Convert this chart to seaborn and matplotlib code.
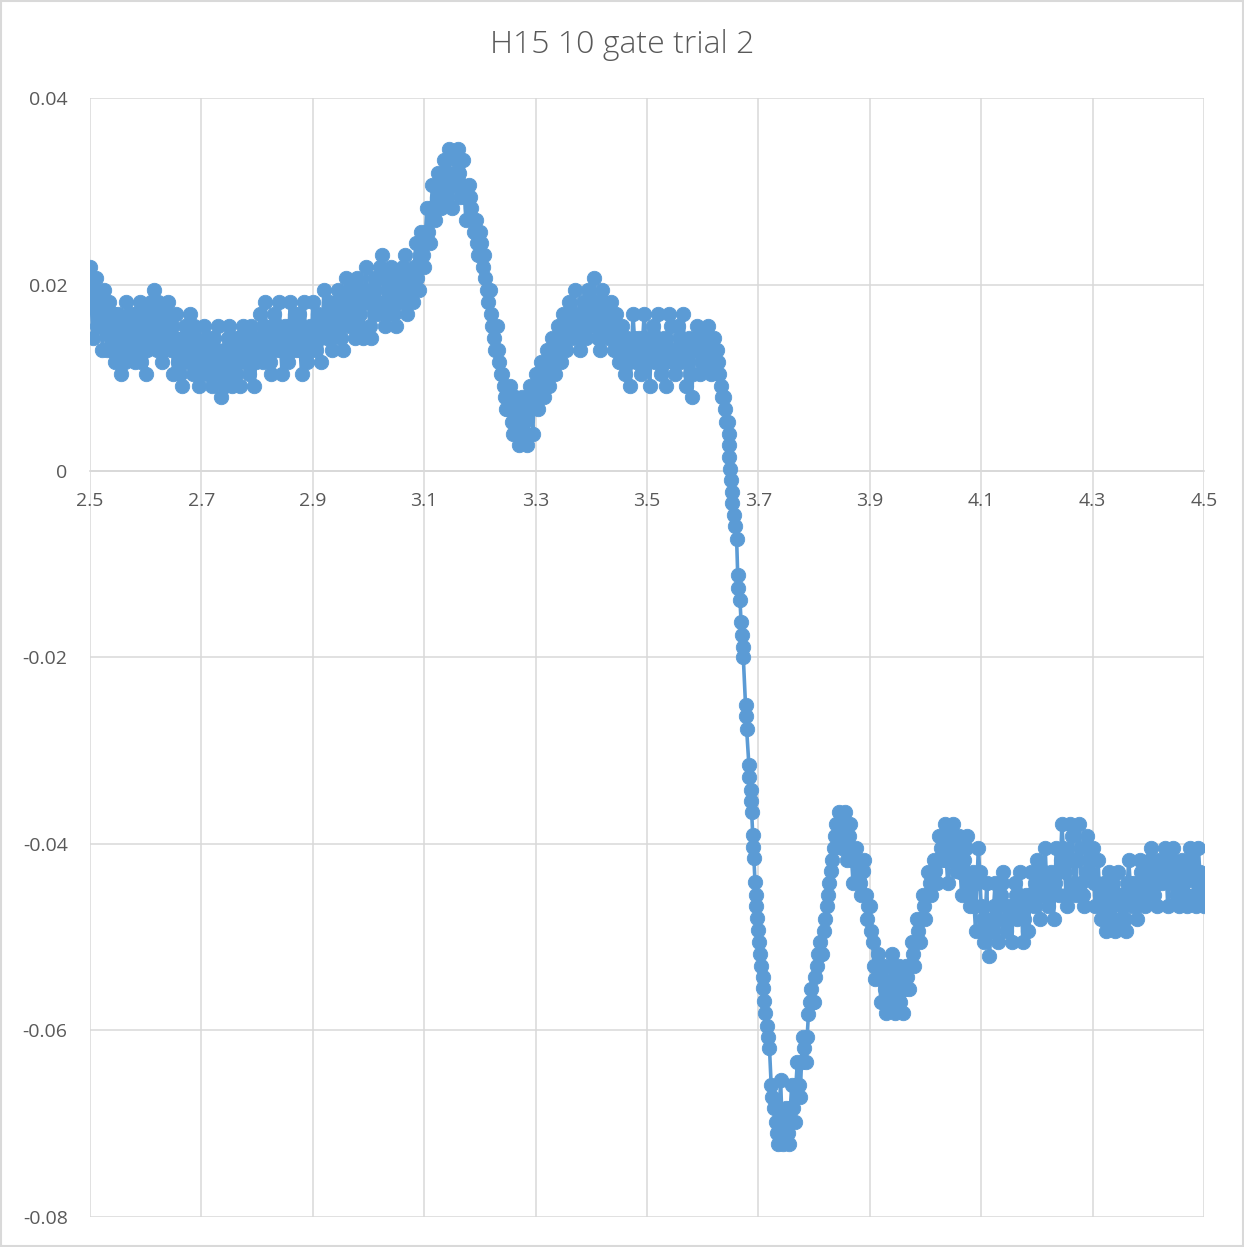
import numpy as np
import pandas as pd
import matplotlib
matplotlib.use("Agg")
import matplotlib.pyplot as plt
import seaborn as sns

TITLE = "H15 10 gate trial 2"
BLUE = "#5B9BD5"

# plateau before the edge: even samples every 0.005 from 2.500 to 3.645
Y_PRE = [
    0.0219, 0.0143, 0.0207, 0.0168, 0.0155, 0.0194, 0.0130, 0.0181, 0.0143, 0.0117,
    0.0168, 0.0104, 0.0155, 0.0181, 0.0130, 0.0168, 0.0117, 0.0143, 0.0181, 0.0130,
    0.0104, 0.0155, 0.0181, 0.0194, 0.0130, 0.0168, 0.0117, 0.0155, 0.0181, 0.0130,
    0.0104, 0.0168, 0.0130, 0.0091, 0.0155, 0.0117, 0.0168, 0.0104, 0.0143, 0.0091,
    0.0130, 0.0155, 0.0104, 0.0143, 0.0091, 0.0117, 0.0155, 0.0079, 0.0130, 0.0104,
    0.0155, 0.0091, 0.0143, 0.0117, 0.0091, 0.0155, 0.0130, 0.0104, 0.0155, 0.0091,
    0.0143, 0.0168, 0.0117, 0.0181, 0.0143, 0.0104, 0.0168, 0.0130, 0.0181, 0.0104,
    0.0155, 0.0117, 0.0181, 0.0143, 0.0130, 0.0168, 0.0104, 0.0181, 0.0117, 0.0155,
    0.0181, 0.0130, 0.0168, 0.0117, 0.0194, 0.0143, 0.0181, 0.0130, 0.0168, 0.0194,
    0.0143, 0.0130, 0.0207, 0.0155, 0.0181, 0.0143, 0.0207, 0.0168, 0.0143, 0.0219,
    0.0181, 0.0143, 0.0207, 0.0168, 0.0219, 0.0232, 0.0155, 0.0194, 0.0219, 0.0168,
    0.0155, 0.0207, 0.0181, 0.0232, 0.0168, 0.0207, 0.0181, 0.0244, 0.0194, 0.0256,
    0.0219, 0.0282, 0.0244, 0.0307, 0.0269, 0.0320, 0.0282, 0.0333, 0.0294, 0.0345,
    0.0282, 0.0320, 0.0345, 0.0294, 0.0333, 0.0269, 0.0307, 0.0282, 0.0256, 0.0244,
    0.0256, 0.0219, 0.0207, 0.0181, 0.0168, 0.0143, 0.0155, 0.0117, 0.0104, 0.0079,
    0.0066, 0.0091, 0.0040, 0.0066, 0.0028, 0.0079, 0.0053, 0.0028, 0.0091, 0.0040,
    0.0104, 0.0066, 0.0117, 0.0079, 0.0130, 0.0091, 0.0143, 0.0104, 0.0155, 0.0117,
    0.0168, 0.0130, 0.0181, 0.0143, 0.0194, 0.0155, 0.0130, 0.0181, 0.0143, 0.0194,
    0.0155, 0.0207, 0.0168, 0.0130, 0.0194, 0.0155, 0.0143, 0.0181, 0.0130, 0.0168,
    0.0117, 0.0155, 0.0104, 0.0143, 0.0091, 0.0168, 0.0117, 0.0143, 0.0104, 0.0168,
    0.0130, 0.0091, 0.0155, 0.0117, 0.0168, 0.0104, 0.0143, 0.0091, 0.0168, 0.0130,
    0.0104, 0.0155, 0.0117, 0.0168, 0.0091, 0.0143, 0.0079, 0.0130, 0.0155, 0.0104,
    0.0143, 0.0117, 0.0155, 0.0104, 0.0143, 0.0130, 0.0104, 0.0079, 0.0066, 0.0053,
]
# odd samples, halfway between the even ones
Y_PRE_MID = [
    0.0181, 0.0194, 0.0155, 0.0181, 0.0130, 0.0168, 0.0155, 0.0130, 0.0168, 0.0143,
    0.0130, 0.0143, 0.0117, 0.0155, 0.0143, 0.0130, 0.0168, 0.0155, 0.0117, 0.0168,
    0.0130, 0.0168, 0.0143, 0.0155, 0.0181, 0.0143, 0.0130, 0.0168, 0.0143, 0.0155,
    0.0143, 0.0117, 0.0104, 0.0143, 0.0130, 0.0143, 0.0117, 0.0155, 0.0117, 0.0104,
    0.0117, 0.0130, 0.0117, 0.0104, 0.0143, 0.0130, 0.0104, 0.0117, 0.0091, 0.0143,
    0.0117, 0.0130, 0.0104, 0.0143, 0.0130, 0.0117, 0.0143, 0.0130, 0.0117, 0.0117,
    0.0130, 0.0143, 0.0155, 0.0130, 0.0117, 0.0155, 0.0143, 0.0155, 0.0130, 0.0130,
    0.0143, 0.0155, 0.0130, 0.0168, 0.0155, 0.0130, 0.0143, 0.0130, 0.0143, 0.0130,
    0.0155, 0.0143, 0.0143, 0.0155, 0.0168, 0.0155, 0.0143, 0.0155, 0.0181, 0.0168,
    0.0168, 0.0181, 0.0168, 0.0194, 0.0155, 0.0181, 0.0155, 0.0194, 0.0181, 0.0194,
    0.0155, 0.0181, 0.0194, 0.0181, 0.0207, 0.0181, 0.0168, 0.0207, 0.0181, 0.0194,
    0.0181, 0.0194, 0.0219, 0.0194, 0.0181, 0.0194, 0.0219, 0.0207, 0.0232, 0.0232,
    0.0256, 0.0256, 0.0282, 0.0282, 0.0294, 0.0294, 0.0307, 0.0320, 0.0320, 0.0307,
    0.0307, 0.0333, 0.0320, 0.0307, 0.0294, 0.0294, 0.0294, 0.0269, 0.0269, 0.0232,
    0.0244, 0.0232, 0.0194, 0.0194, 0.0155, 0.0130, 0.0130, 0.0104, 0.0091, 0.0066,
    0.0079, 0.0053, 0.0079, 0.0040, 0.0053, 0.0066, 0.0040, 0.0066, 0.0066, 0.0079,
    0.0091, 0.0104, 0.0091, 0.0117, 0.0104, 0.0130, 0.0117, 0.0143, 0.0130, 0.0143,
    0.0155, 0.0155, 0.0168, 0.0168, 0.0168, 0.0143, 0.0168, 0.0155, 0.0168, 0.0168,
    0.0181, 0.0181, 0.0143, 0.0168, 0.0181, 0.0168, 0.0168, 0.0155, 0.0143, 0.0143,
    0.0130, 0.0130, 0.0117, 0.0117, 0.0130, 0.0143, 0.0130, 0.0117, 0.0143, 0.0143,
    0.0117, 0.0130, 0.0130, 0.0143, 0.0130, 0.0117, 0.0117, 0.0130, 0.0155, 0.0117,
    0.0130, 0.0143, 0.0130, 0.0130, 0.0117, 0.0104, 0.0104, 0.0143, 0.0130, 0.0117,
    0.0130, 0.0130, 0.0130, 0.0117, 0.0117, 0.0117, 0.0091, 0.0079, 0.0053,
]

# the steep drop, points read one by one
X_DROP = [3.6465, 3.647, 3.648, 3.649, 3.651, 3.652, 3.653, 3.656, 3.658, 3.661, 3.663,
          3.664, 3.667, 3.669, 3.671, 3.672, 3.673, 3.677, 3.678, 3.679, 3.683,
          3.684, 3.686, 3.687, 3.688, 3.690, 3.691, 3.692, 3.694, 3.695, 3.696,
          3.697, 3.699, 3.702, 3.703, 3.705, 3.708, 3.709, 3.711, 3.712, 3.715,
          3.718, 3.720, 3.723, 3.725, 3.728, 3.731, 3.733, 3.735]
Y_DROP = [0.0040, 0.0028, 0.0015, 0.0002, -0.0010, -0.0022, -0.0034, -0.0047, -0.0059, -0.0073, -0.0112,
          -0.0125, -0.0138, -0.0162, -0.0176, -0.0189, -0.0200, -0.0251, -0.0263, -0.0277, -0.0315,
          -0.0328, -0.0342, -0.0354, -0.0366, -0.0390, -0.0403, -0.0415, -0.0441, -0.0455, -0.0467,
          -0.0479, -0.0492, -0.0505, -0.0518, -0.0531, -0.0543, -0.0555, -0.0568, -0.0581, -0.0595,
          -0.0607, -0.0619, -0.0658, -0.0671, -0.0683, -0.0698, -0.0710, -0.0722]

# ringing after the edge: even samples every 0.005 from 3.740 to 4.500
Y_POST = [
    -0.0653, -0.0722, -0.0683, -0.0722, -0.0658, -0.0698, -0.0634, -0.0671, -0.0607, -0.0634,
    -0.0582, -0.0556, -0.0569, -0.0531, -0.0505, -0.0518, -0.0480, -0.0455, -0.0429, -0.0404,
    -0.0379, -0.0366, -0.0404, -0.0366, -0.0417, -0.0379, -0.0442, -0.0404, -0.0429, -0.0455,
    -0.0417, -0.0480, -0.0467, -0.0505, -0.0545, -0.0518, -0.0569, -0.0531, -0.0581, -0.0556,
    -0.0518, -0.0581, -0.0543, -0.0569, -0.0581, -0.0531, -0.0556, -0.0505, -0.0531, -0.0480,
    -0.0505, -0.0455, -0.0480, -0.0430, -0.0455, -0.0417, -0.0442, -0.0391, -0.0417, -0.0379,
    -0.0442, -0.0404, -0.0379, -0.0429, -0.0391, -0.0455, -0.0417, -0.0391, -0.0467, -0.0430,
    -0.0493, -0.0404, -0.0467, -0.0505, -0.0442, -0.0520, -0.0480, -0.0442, -0.0505, -0.0455,
    -0.0430, -0.0493, -0.0467, -0.0505, -0.0442, -0.0480, -0.0430, -0.0505, -0.0455, -0.0493,
    -0.0430, -0.0467, -0.0417, -0.0480, -0.0442, -0.0404, -0.0467, -0.0430, -0.0480, -0.0404,
    -0.0455, -0.0379, -0.0430, -0.0467, -0.0379, -0.0417, -0.0455, -0.0379, -0.0442, -0.0467,
    -0.0391, -0.0430, -0.0404, -0.0467, -0.0417, -0.0480, -0.0442, -0.0493, -0.0430, -0.0467,
    -0.0493, -0.0430, -0.0480, -0.0455, -0.0493, -0.0417, -0.0467, -0.0442, -0.0480, -0.0417,
    -0.0455, -0.0467, -0.0430, -0.0404, -0.0455, -0.0467, -0.0417, -0.0442, -0.0404, -0.0467,
    -0.0430, -0.0404, -0.0455, -0.0467, -0.0417, -0.0442, -0.0467, -0.0404, -0.0430, -0.0467,
    -0.0404, -0.0442, -0.0467,
]
# odd samples, halfway between the even ones
Y_POST_MID = [
    -0.0698, -0.0698, -0.0710, -0.0683, -0.0683, -0.0658, -0.0658, -0.0634, -0.0619, -0.0607,
    -0.0569, -0.0569, -0.0543, -0.0518, -0.0518, -0.0493, -0.0467, -0.0442, -0.0417, -0.0391,
    -0.0379, -0.0391, -0.0379, -0.0391, -0.0391, -0.0417, -0.0417, -0.0417, -0.0442, -0.0429,
    -0.0455, -0.0467, -0.0493, -0.0531, -0.0531, -0.0543, -0.0543, -0.0556, -0.0569, -0.0531,
    -0.0556, -0.0556, -0.0531, -0.0556, -0.0556, -0.0543, -0.0531, -0.0518, -0.0505, -0.0493,
    -0.0480, -0.0467, -0.0455, -0.0442, -0.0430, -0.0429, -0.0417, -0.0404, -0.0391, -0.0417,
    -0.0417, -0.0391, -0.0404, -0.0404, -0.0430, -0.0430, -0.0404, -0.0442, -0.0442, -0.0467,
    -0.0442, -0.0430, -0.0480, -0.0480, -0.0493, -0.0493, -0.0467, -0.0480, -0.0480, -0.0442,
    -0.0467, -0.0480, -0.0480, -0.0467, -0.0455, -0.0455, -0.0467, -0.0480, -0.0467, -0.0455,
    -0.0455, -0.0442, -0.0455, -0.0455, -0.0430, -0.0442, -0.0455, -0.0455, -0.0442, -0.0430,
    -0.0417, -0.0404, -0.0455, -0.0417, -0.0391, -0.0442, -0.0417, -0.0404, -0.0455, -0.0430,
    -0.0417, -0.0417, -0.0442, -0.0442, -0.0455, -0.0455, -0.0467, -0.0467, -0.0442, -0.0480,
    -0.0455, -0.0455, -0.0467, -0.0480, -0.0442, -0.0442, -0.0455, -0.0467, -0.0442, -0.0430,
    -0.0430, -0.0442, -0.0417, -0.0430, -0.0430, -0.0442, -0.0430, -0.0417, -0.0430, -0.0442,
    -0.0417, -0.0430, -0.0442, -0.0442, -0.0430, -0.0455, -0.0430, -0.0417, -0.0455, -0.0442,
    -0.0430, -0.0455,
]

X_TICKS = [2.5, 2.7, 2.9, 3.1, 3.3, 3.5, 3.7, 3.9, 4.1, 4.3, 4.5]
Y_TICKS = [0.04, 0.02, 0, -0.02, -0.04, -0.06, -0.08]


def interleave(even, odd):
    out = np.empty(len(even) + len(odd))
    out[0::2] = even
    out[1::2] = odd
    return out


pre = interleave(Y_PRE, Y_PRE_MID)
post = interleave(Y_POST, Y_POST_MID)
x = np.concatenate([np.linspace(2.5, 3.645, len(pre)), X_DROP,
                    np.linspace(3.74, 4.5, len(post))])
y = np.concatenate([pre, Y_DROP, post])
df = pd.DataFrame({"t": x, "v": y})

sns.set_theme(style="white")
plt.rcParams["font.family"] = ["Open Sans", "DejaVu Sans"]

fig = plt.figure(figsize=(12.44, 12.47), dpi=100)
ax = fig.add_axes([0.0723, 0.0241, 0.8955, 0.8973])

sns.lineplot(data=df, x="t", y="v", ax=ax, sort=False, estimator=None,
             color=BLUE, linewidth=2.6, marker="o", markersize=10.4,
             markeredgecolor=BLUE, markeredgewidth=0.6)

ax.set_xlim(2.5, 4.5)
ax.set_ylim(-0.08, 0.04)
ax.set_xticks(X_TICKS)
ax.set_yticks(Y_TICKS)
ax.set_xticklabels([f"{t:g}" for t in X_TICKS])
ax.set_yticklabels([f"{t:g}" for t in Y_TICKS])
ax.grid(True, color="#d9d9d9", linewidth=1.1)
ax.set_axisbelow(True)
for s in ["top", "right", "left"]:
    ax.spines[s].set_visible(False)
ax.spines["bottom"].set_position(("data", 0))
ax.spines["bottom"].set_color("#d0d0d0")
ax.spines["bottom"].set_linewidth(1.1)
ax.spines["bottom"].set_zorder(0.5)
ax.tick_params(axis="both", length=0, labelsize=14, colors="#595959")
ax.tick_params(axis="x", pad=15)
ax.tick_params(axis="y", pad=16)
ax.set_xlabel("")
ax.set_ylabel("")

fig.text(0.5, 0.964, TITLE, ha="center", va="center", fontsize=23,
         fontweight="light", color="#595959")
fig.patches.append(plt.Rectangle((0.001, 0.001), 0.998, 0.998, transform=fig.transFigure,
                                 fill=False, edgecolor="#d9d9d9", linewidth=1.5))

fig.savefig("out.png", dpi=100)
